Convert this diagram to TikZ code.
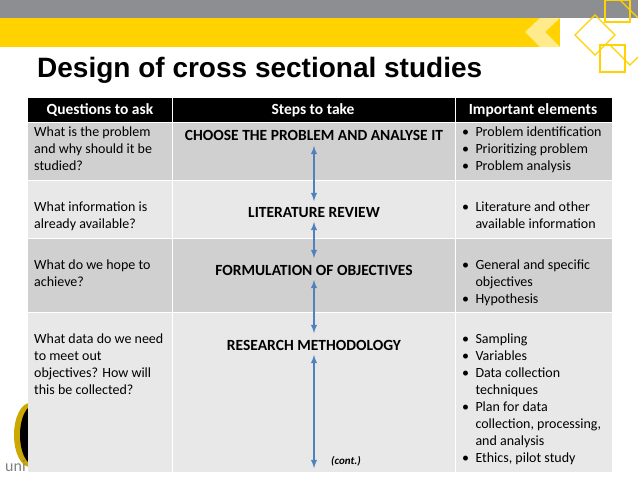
\documentclass[tikz,border=0pt]{standalone}
\usepackage{fontspec}
\setmainfont{Carlito}
\newfontfamily\titlefont{Liberation Sans}
\usetikzlibrary{positioning}
\definecolor{bargray}{RGB}{140,142,145}
\definecolor{baryellow}{RGB}{255,210,0}
\definecolor{rowdark}{RGB}{208,208,208}
\definecolor{rowlight}{RGB}{232,232,232}
\definecolor{arrowblue}{RGB}{79,129,189}
\tikzset{
  cell/.style={anchor=north west,align=left,font=\fontsize{14}{17}\selectfont,inner sep=0pt},
  stepname/.style={font=\bfseries\fontsize{15.5}{18}\selectfont,inner sep=0pt},
  headtxt/.style={text=white,font=\bfseries\fontsize{15.5}{18}\selectfont},
  link/.style={<->,>=latex,arrowblue,line width=1.8pt},
}
\begin{document}
\begin{tikzpicture}[x=1pt,y=-1pt]
  \useasboundingbox (0,0) rectangle (638,479);
  \fill[white] (0,0) rectangle (638,479);
  % banner
  \fill[bargray] (0,0) rectangle (638,18);
  \fill[baryellow] (0,18) rectangle (560,47);
  \fill[baryellow!45] (540,18) -- (560,18) -- (545,32) -- (560,47) -- (540,47) -- (525,32) -- cycle;
  \begin{scope}[baryellow,line width=1.3pt]
    \draw (595,15) -- (615,35) -- (595,55) -- (575,35) -- cycle;
    \draw (620,0) -- (638,18);
    \draw (610,45) -- (630,65) -- (638,57);
    \draw (605,0) rectangle (630,22);
    \draw (600,45) rectangle (625,72);
  \end{scope}
  % logo
  \fill[baryellow!80!black] (30,435) ellipse (16 and 32);
  \fill[black] (34,435) ellipse (14 and 30);
  \node[text=gray,font=\fontsize{16}{16}\selectfont,anchor=west,inner sep=0pt] at (5,466) {uni};
  % title
  \node[anchor=west,inner sep=0pt,font=\titlefont\bfseries\fontsize{28}{32}\selectfont] (title) at (37,70) {Design of cross sectional studies};
  % table
  \fill[black] (28,98) rectangle (612,122);
  \fill[rowdark] (28,122) rectangle (612,180);
  \fill[rowlight] (28,180) rectangle (612,238);
  \fill[rowdark] (28,238) rectangle (612,312);
  \fill[rowlight] (28,312) rectangle (612,472);
  \foreach \y in {122,180,238,312} \draw[white,line width=1pt] (28,\y) -- (612,\y);
  \foreach \x in {172,455} \draw[white,line width=1pt] (\x,98) -- (\x,472);
  \node[headtxt] (hq) at (100,110) {Questions to ask};
  \node[headtxt] (hs) at (313,110) {Steps to take};
  \node[headtxt] (he) at (533,110) {Important elements};
  % questions
  \node[cell] (q1) at (34,127) {What is the problem\\and why should it be\\studied?};
  \node[cell] (q2) at (34,202) {What information is\\already available?};
  \node[cell] (q3) at (34,260) {What do we hope to\\achieve?};
  \node[cell] (q4) at (34,334) {What data do we need\\to meet out\\objectives? How will\\this be collected?};
  % steps
  \node[stepname] (s1) at (314,135) {CHOOSE THE PROBLEM AND ANALYSE IT};
  \node[stepname] (s2) at (314,213) {LITERATURE REVIEW};
  \node[stepname] (s3) at (314,270) {FORMULATION OF OBJECTIVES};
  \node[stepname] (s4) at (314,345) {RESEARCH METHODOLOGY};
  \node[font=\bfseries\itshape\fontsize{11}{12}\selectfont,inner sep=0pt] (cont) at (346,461) {(cont.)};
  \coordinate (s5) at (314,468);
  \draw[link] (314,146) -- (314,201);
  \draw[link] (314,222) -- (314,258);
  \draw[link] (314,280) -- (314,333);
  \draw[link] (314,355) -- (s5);
  % elements
  \node[cell] (e1) at (462,127) {\textbullet\ \ Problem identification\\\textbullet\ \ Prioritizing problem\\\textbullet\ \ Problem analysis};
  \node[cell] (e2) at (462,202) {\textbullet\ \ Literature and other\\\phantom{\textbullet\ \ }available information};
  \node[cell] (e3) at (462,260) {\textbullet\ \ General and specific\\\phantom{\textbullet\ \ }objectives\\\textbullet\ \ Hypothesis};
  \node[cell] (e4) at (462,334) {\textbullet\ \ Sampling\\\textbullet\ \ Variables\\\textbullet\ \ Data collection\\\phantom{\textbullet\ \ }techniques\\\textbullet\ \ Plan for data\\\phantom{\textbullet\ \ }collection, processing,\\\phantom{\textbullet\ \ }and analysis\\\textbullet\ \ Ethics, pilot study};
\end{tikzpicture}
\end{document}
